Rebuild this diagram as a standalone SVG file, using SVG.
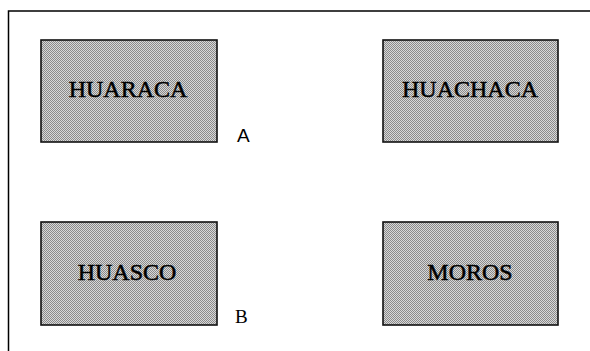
<svg xmlns="http://www.w3.org/2000/svg" width="590" height="351" viewBox="0 0 590 351">
<defs>
<pattern id="dither" width="2" height="2" patternUnits="userSpaceOnUse">
<rect width="2" height="2" fill="#d8d8d8"/>
<rect width="1" height="1" fill="#8a8a8a"/>
<rect x="1" y="1" width="1" height="1" fill="#8a8a8a"/>
</pattern>
</defs>
<style>
.box{fill:url(#dither);stroke:#111;stroke-width:1.6}
.name{font-family:"Liberation Serif","Times New Roman",serif;font-size:24px;fill:#000;stroke:#000;stroke-width:0.5;text-anchor:middle}
.lbl{font-size:19px;fill:#000}
</style>
<rect id="frame" x="8.5" y="11" width="600" height="360" fill="#fff" stroke="#000" stroke-width="1.5"/>
<g id="connectors"></g>
<g id="huaraca">
<rect class="box" x="41" y="40" width="176" height="102"/>
<text class="name" x="128" y="97">HUARACA</text>
</g>
<g id="huachaca">
<rect class="box" x="383" y="40" width="175" height="102"/>
<text class="name" x="470" y="97">HUACHACA</text>
</g>
<g id="huasco">
<rect class="box" x="41" y="222" width="176" height="103"/>
<text class="name" x="127" y="280">HUASCO</text>
</g>
<g id="moros">
<rect class="box" x="383" y="222" width="175" height="103"/>
<text class="name" x="470" y="280">MOROS</text>
</g>
<text id="labelA" class="lbl" x="237" y="142" font-family="Liberation Sans, Arial, sans-serif">A</text>
<text id="labelB" class="lbl" x="235" y="323" font-family="Liberation Serif, Times New Roman, serif">B</text>
</svg>
